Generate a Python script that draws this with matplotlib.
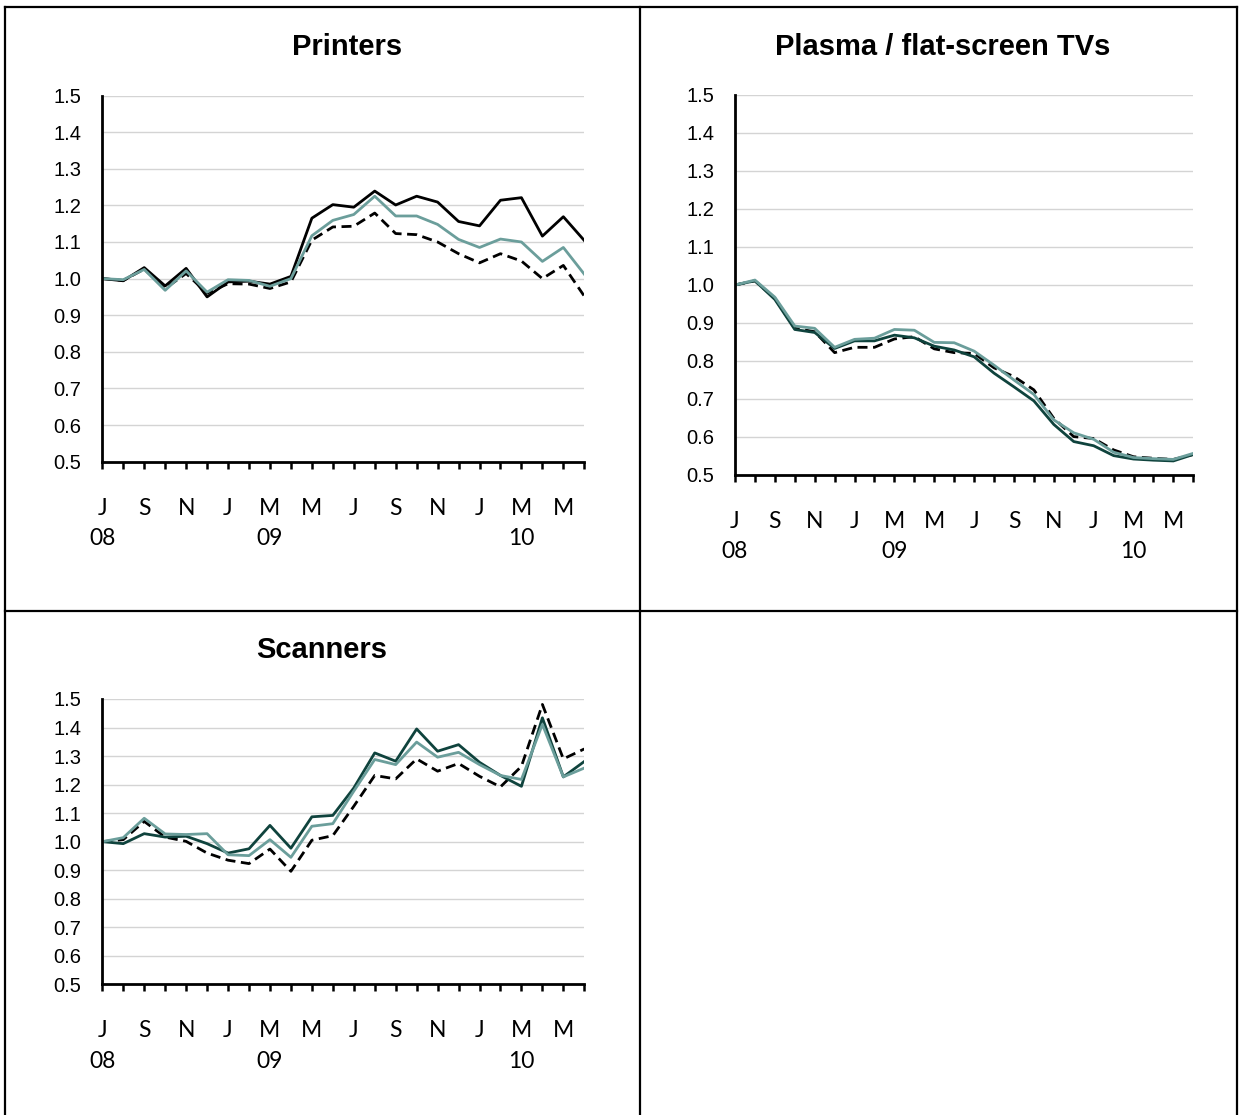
import matplotlib
matplotlib.use("Agg")
import matplotlib.pyplot as plt
from matplotlib.lines import Line2D

# ---------------- data ----------------
months = ["Jul 08", "Aug 08", "Sep 08", "Oct 08", "Nov 08", "Dec 08",
          "Jan 09", "Feb 09", "Mar 09", "Apr 09", "May 09", "Jun 09",
          "Jul 09", "Aug 09", "Sep 09", "Oct 09", "Nov 09", "Dec 09",
          "Jan 10", "Feb 10", "Mar 10", "Apr 10", "May 10", "Jun 10"]
tick_labels = ["J\n08", "", "S", "", "N", "", "J", "", "M\n09", "", "M", "",
               "J", "", "S", "", "N", "", "J", "", "M\n10", "", "M", ""]
yticks = [0.5, 0.6, 0.7, 0.8, 0.9, 1.0, 1.1, 1.2, 1.3, 1.4, 1.5]

printers_solid = [1.000, 0.994, 1.030, 0.980, 1.028, 0.950, 0.991, 0.993, 0.985, 1.006,
                  1.165, 1.202, 1.195, 1.239, 1.201, 1.225, 1.209, 1.156, 1.144, 1.214,
                  1.221, 1.116, 1.169, 1.104]
printers_teal = [1.000, 0.997, 1.025, 0.968, 1.021, 0.963, 0.997, 0.995, 0.979, 1.000,
                 1.117, 1.159, 1.175, 1.225, 1.171, 1.171, 1.148, 1.107, 1.085, 1.108,
                 1.100, 1.047, 1.085, 1.012]
printers_dash = [1.000, 0.995, 1.026, 0.973, 1.014, 0.960, 0.986, 0.985, 0.973, 0.991,
                 1.105, 1.141, 1.143, 1.179, 1.123, 1.120, 1.100, 1.068, 1.043, 1.068,
                 1.048, 1.000, 1.036, 0.952]

plasma_solid = [1.000, 1.011, 0.962, 0.883, 0.875, 0.833, 0.853, 0.853, 0.868, 0.861,
                0.839, 0.829, 0.811, 0.768, 0.732, 0.695, 0.633, 0.588, 0.577, 0.551,
                0.542, 0.539, 0.537, 0.554]
plasma_teal = [1.000, 1.013, 0.968, 0.892, 0.886, 0.836, 0.857, 0.860, 0.883, 0.881,
               0.849, 0.848, 0.826, 0.789, 0.750, 0.712, 0.645, 0.611, 0.594, 0.560,
               0.546, 0.543, 0.541, 0.557]
plasma_dash = [1.000, 1.011, 0.965, 0.886, 0.877, 0.822, 0.836, 0.836, 0.858, 0.864,
               0.832, 0.822, 0.820, 0.782, 0.759, 0.724, 0.649, 0.601, 0.596, 0.566,
               0.548, 0.544, 0.541, 0.554]

scanners_solid = [1.000, 0.993, 1.028, 1.016, 1.019, 0.993, 0.960, 0.975, 1.057, 0.977,
                  1.087, 1.092, 1.188, 1.311, 1.282, 1.395, 1.317, 1.340, 1.278, 1.232,
                  1.194, 1.434, 1.227, 1.281]
scanners_teal = [1.000, 1.014, 1.082, 1.027, 1.025, 1.028, 0.954, 0.951, 1.007, 0.945,
                 1.054, 1.063, 1.177, 1.288, 1.270, 1.349, 1.296, 1.313, 1.270, 1.232,
                 1.218, 1.411, 1.227, 1.258]
scanners_dash = [1.000, 1.007, 1.071, 1.016, 1.001, 0.960, 0.935, 0.923, 0.974, 0.896,
                 1.005, 1.021, 1.124, 1.232, 1.220, 1.290, 1.247, 1.274, 1.229, 1.192,
                 1.264, 1.481, 1.290, 1.325]

titles = ["Printers", "Plasma / flat-screen TVs", "Scanners"]

# ---------------- style ----------------
W, H = 1239, 1115
DPI = 100
TEAL = "#6b9e9b"
DARK = "#0f433d"
BLACK = "#000000"
GRID = "#d4d4d4"


def rect(l, r, t, b):
    return [l / W, 1 - b / H, (r - l) / W, (b - t) / H]


fig = plt.figure(figsize=(W / DPI, H / DPI), dpi=DPI)
fig.patch.set_facecolor("white")

panels = [
    dict(title=titles[0], box=(102.3, 584.3, 95.5, 461.7), tpos=(347, 47),
         solid=printers_solid, solid_color=BLACK, teal=printers_teal, dash=printers_dash),
    dict(title=titles[1], box=(735.0, 1193.3, 95.0, 475.0), tpos=(943, 47),
         solid=plasma_solid, solid_color=DARK, teal=plasma_teal, dash=plasma_dash),
    dict(title=titles[2], box=(102.3, 584.3, 699.0, 984.3), tpos=(322, 650),
         solid=scanners_solid, solid_color=DARK, teal=scanners_teal, dash=scanners_dash),
]

x = list(range(len(months)))

for p in panels:
    ax = fig.add_axes(rect(*p["box"]))
    ax.set_facecolor("none")
    for yv in yticks[1:]:
        ax.axhline(yv, color=GRID, lw=1.0, zorder=0)
    ax.plot(x, p["dash"], color=BLACK, lw=2.0, dashes=(3.6, 2.0), zorder=3)
    ax.plot(x, p["solid"], color=p["solid_color"], lw=2.0, zorder=4)
    ax.plot(x, p["teal"], color=TEAL, lw=2.0, zorder=5)

    ax.set_xlim(0, len(months) - 1)
    ax.set_ylim(0.5, 1.5)
    ax.set_yticks(yticks)
    ax.set_yticklabels([f"{v:.1f}" for v in yticks], family="Liberation Sans",
                       fontsize=14.5)
    ax.set_xticks(x)
    ax.set_xticklabels(tick_labels, family="Lato", fontsize=16.5, linespacing=1.55)
    ax.tick_params(axis="y", length=0, pad=15)
    ax.tick_params(axis="x", length=5, width=1.8, direction="out", pad=21,
                   color="black")
    for s in ["top", "right"]:
        ax.spines[s].set_visible(False)
    for s in ["left", "bottom"]:
        ax.spines[s].set_linewidth(2.0)
        ax.spines[s].set_color("black")
        ax.spines[s].set_zorder(6)

    fig.text(p["tpos"][0] / W, 1 - p["tpos"][1] / H, p["title"],
             ha="center", va="center", family="Liberation Sans",
             fontweight="bold", fontsize=21)

# table borders
def fline(x0, y0, x1, y1):
    fig.add_artist(Line2D([x0 / W, x1 / W], [1 - y0 / H, 1 - y1 / H],
                          transform=fig.transFigure, color="black", lw=1.6))

fline(5, 7, 1237, 7)
fline(5, 611, 1237, 611)
fline(5, 7, 5, 1115)
fline(640, 7, 640, 1115)
fline(1237, 7, 1237, 1115)

fig.savefig("out.png", dpi=DPI, facecolor="white")
